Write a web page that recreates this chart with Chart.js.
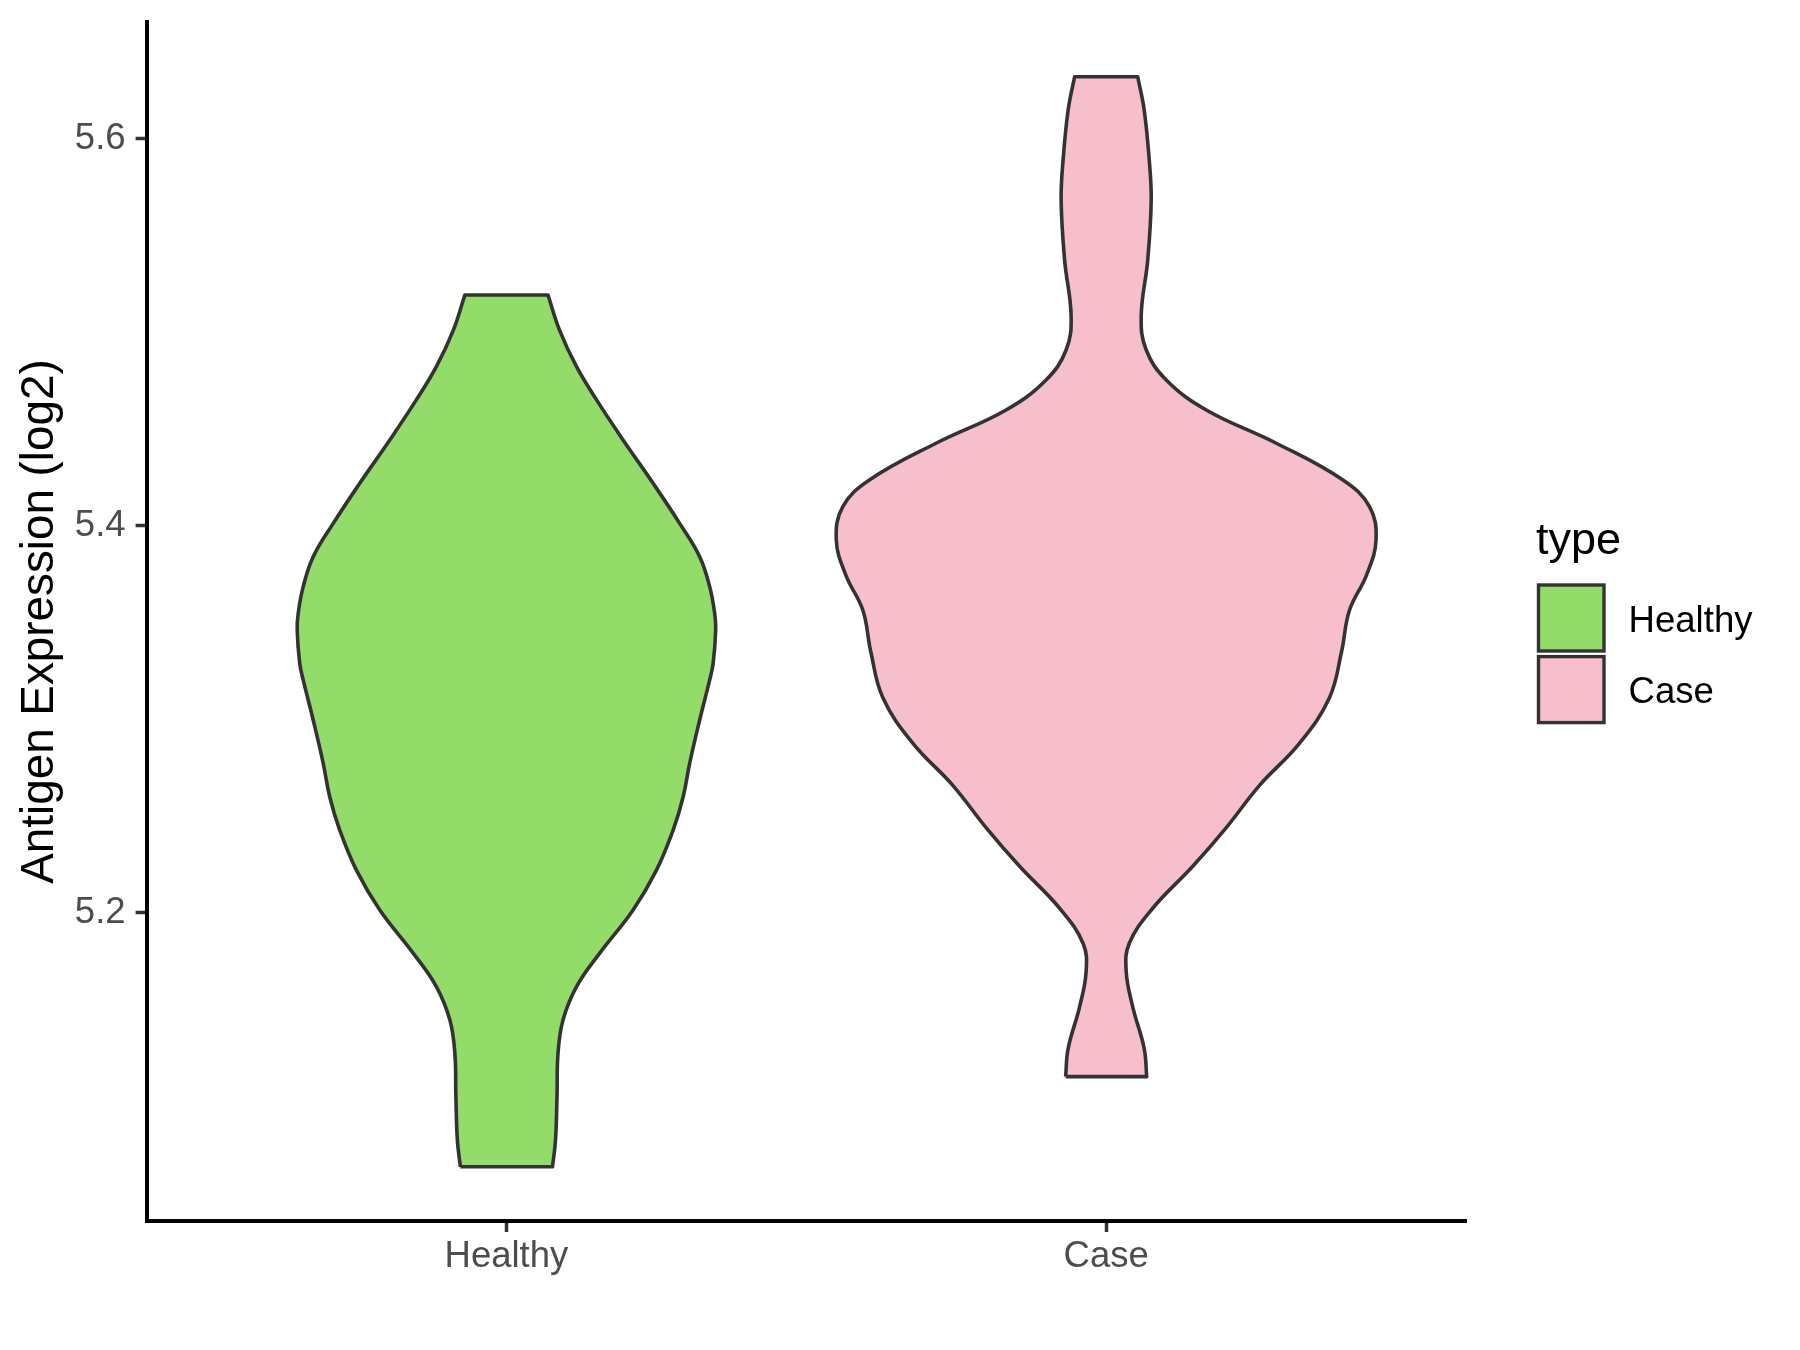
<!DOCTYPE html>
<html>
<head>
<meta charset="utf-8">
<script src="https://cdn.jsdelivr.net/npm/chart.js@4/dist/chart.umd.min.js"></script>
<style>
html,body{margin:0;padding:0;background:#ffffff;}
#wrap{width:1800px;height:1350px;}
</style>
</head>
<body>
<div id="wrap"><canvas id="c" width="1800" height="1350"></canvas></div>
<script>
// ---- data ----
const categories = ['Healthy', 'Case'];
const fillColors = ['#94DC6A', '#F7BFCB'];
const yTickValues = [5.2, 5.4, 5.6];
const legendTitle = 'type';
const yAxisTitle = 'Antigen Expression (log2)';

// violin outlines: value (y) and half-width (in category units), bottom to top
const healthyY = [5.0686, 5.0824, 5.1048, 5.1272, 5.1444, 5.1617, 5.1789, 5.2013, 5.2220, 5.2426, 5.2598, 5.2771, 5.2995, 5.3202, 5.3288, 5.3460, 5.3546, 5.3684, 5.3839, 5.4011, 5.4218, 5.4442, 5.4649, 5.4821, 5.5010, 5.5191];
const healthyW = [0.0768, 0.0818, 0.0843, 0.0860, 0.0943, 0.1169, 0.1553, 0.2112, 0.2504, 0.2780, 0.2947, 0.3055, 0.3222, 0.3389, 0.3447, 0.3489, 0.3472, 0.3389, 0.3222, 0.2888, 0.2446, 0.1945, 0.1503, 0.1169, 0.0885, 0.0693];

const caseY = [5.1152, 5.1297, 5.1514, 5.1696, 5.1840, 5.2022, 5.2239, 5.2439, 5.2656, 5.2874, 5.3110, 5.3345, 5.3562, 5.3744, 5.3925, 5.4097, 5.4235, 5.4425, 5.4597, 5.4752, 5.4907, 5.5079, 5.5372, 5.5682, 5.5889, 5.6147, 5.6319];
const caseW = [0.0676, 0.0634, 0.0442, 0.0334, 0.0384, 0.0776, 0.1444, 0.2003, 0.2554, 0.3222, 0.3723, 0.3923, 0.4057, 0.4341, 0.4500, 0.4391, 0.3948, 0.2838, 0.1669, 0.1002, 0.0668, 0.0584, 0.0693, 0.0751, 0.0718, 0.0634, 0.0526];

// ---- build closed outlines (corner vertices repeated so the flat ends stay sharp) ----
function violinOutline(idx, ys, ws) {
  const n = ys.length;
  const left = ys.map((y, i) => ({ x: idx - ws[i], y: y }));
  const right = ys.map((y, i) => ({ x: idx + ws[i], y: y })).reverse();
  return [].concat(left, [left[n - 1], right[0]], right, [right[n - 1], left[0]]);
}

const FONT = '"Liberation Sans", Arial, Helvetica, sans-serif';
Chart.defaults.font.family = FONT;

const violins = [violinOutline(0, healthyY, healthyW), violinOutline(1, caseY, caseW)];

const datasets = categories.map((name, i) => ({
  label: name,
  data: violins[i],
  backgroundColor: fillColors[i],
  borderColor: '#333333',
  borderWidth: 3.6,
  borderJoinStyle: 'round',
  pointRadius: 0,
  pointHoverRadius: 0,
  fill: 'shape',
  tension: 0.4,
  showLine: true
}));

const legendPlugin = {
  id: 'ggLegend',
  afterDraw(chart) {
    const ctx = chart.ctx;
    ctx.save();
    ctx.textAlign = 'left';
    ctx.textBaseline = 'alphabetic';
    ctx.fillStyle = '#000000';
    ctx.font = '45px ' + FONT;
    ctx.fillText(legendTitle, 1536, 554);
    chart.data.datasets.forEach((ds, i) => {
      const top = 585 + i * 71.6;
      ctx.fillStyle = ds.backgroundColor;
      ctx.fillRect(1538.5, top, 65.5, 66);
      ctx.lineWidth = 3.4;
      ctx.strokeStyle = '#333333';
      ctx.strokeRect(1538.5, top, 65.5, 66);
      ctx.fillStyle = '#000000';
      ctx.font = '36.6px ' + FONT;
      ctx.fillText(ds.label, 1628.5, 631.7 + i * 71.3);
    });
    ctx.restore();
  }
};

new Chart(document.getElementById('c'), {
  type: 'line',
  data: { datasets },
  plugins: [legendPlugin],
  options: {
    responsive: false,
    devicePixelRatio: 1,
    animation: false,
    events: [],
    layout: { padding: { left: 0, top: 22, right: 334, bottom: 0 } },
    plugins: { legend: { display: false }, tooltip: { enabled: false } },
    scales: {
      x: {
        type: 'linear',
        min: -0.6,
        max: 1.6,
        afterBuildTicks: s => { s.ticks = categories.map((c, i) => ({ value: i })); },
        afterFit: s => { s.height = 129; s.paddingLeft = 0; s.paddingRight = 0; },
        ticks: {
          callback: v => categories[v],
          color: '#4D4D4D',
          font: { size: 36.5, lineHeight: 1 },
          padding: 7,
          maxRotation: 0,
          autoSkip: false
        },
        grid: { drawOnChartArea: false, drawTicks: true, tickLength: 11, tickWidth: 3.5, tickColor: '#333333' },
        border: { display: true, color: '#000000', width: 4 }
      },
      y: {
        type: 'linear',
        min: 5.04057,
        max: 5.6602,
        afterBuildTicks: s => { s.ticks = yTickValues.map(v => ({ value: v })); },
        afterFit: s => { s.width = 146.6; s.paddingTop = 0; s.paddingBottom = 0; },
        ticks: {
          callback: v => Number(v).toFixed(1),
          color: '#4D4D4D',
          font: { size: 36.5, lineHeight: 1 },
          padding: 10
        },
        grid: { drawOnChartArea: false, drawTicks: true, tickLength: 11, tickWidth: 3.5, tickColor: '#333333' },
        border: { display: true, color: '#000000', width: 4 },
        title: {
          display: true,
          text: yAxisTitle,
          color: '#000000',
          font: { size: 45.8, lineHeight: 1 },
          padding: { top: 17, bottom: 0 }
        }
      }
    }
  }
});
</script>
</body>
</html>
